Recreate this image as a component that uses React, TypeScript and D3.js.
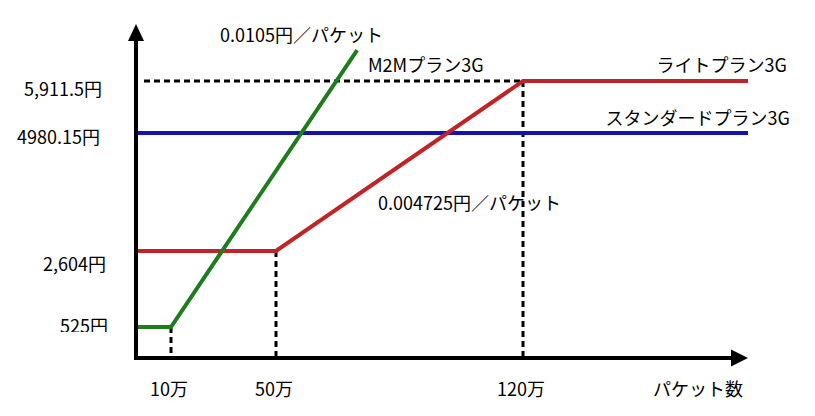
import React from "react";
import * as d3 from "d3";

// x values in 万パケット, y values in 円
const xTickValues = [10, 50, 120];
const xTickLabels = ["10万", "50万", "120万"];
const yTickValues = [525, 2604, 4980.15, 5911.5];
const yTickLabels = ["525円", "2,604円", "4980.15円", "5,911.5円"];

const m2mX = [0, 10, 73];
const m2mY = [525, 525, 6466];
const liteX = [0, 50, 120, 180];
const liteY = [2604, 2604, 5911.5, 5911.5];
const stdX = [0, 180];
const stdY = [4980.15, 4980.15];

const seriesNames = ["M2Mプラン3G", "ライトプラン3G", "スタンダードプラン3G"];
const rateLabels = ["0.0105円／パケット", "0.004725円／パケット"];
const xAxisTitle = "パケット数";

const W = 815;
const H = 416;
const FONT = "'Noto Sans CJK JP', 'Noto Sans', sans-serif";

// schematic (piecewise) scales, as in the original diagram
const x = d3.scaleLinear().domain([0, 10, 50, 120, 180]).range([136, 171, 276, 523, 748]);
const y = d3.scaleLinear().domain([0, 525, 2604, 4980.15, 5911.5]).range([358, 327, 251, 133, 81]);

const toPts = (xs: number[], ys: number[]) => xs.map((v, i) => [v, ys[i]] as [number, number]);
const line = d3
  .line<[number, number]>()
  .x((d) => x(d[0]))
  .y((d) => y(d[1]));

const yLabelStyle = [
  { dx: 108, baseline: 333 },
  { dx: 106, baseline: 271 },
  { dx: 100, baseline: 144 },
  { dx: 102, baseline: 96 },
];

export default function App() {
  const x0 = x(0);
  const y0 = y(0);
  const xEnd = x(180);
  const yTop = 24;
  const dash = "6,4";
  return (
    <svg
      width={W}
      height={H}
      style={{ position: "absolute", left: 0, top: 0, background: "#fff" }}
      fontFamily={FONT}
      fontSize={18}
    >
      <defs>
        <clipPath id="clip525">
          <rect x={0} y={0} width={W} height={332} />
        </clipPath>
      </defs>
      <rect width={W} height={H} fill="#fff" />

      {/* y tick labels */}
      {yTickValues.map((v, i) => (
        <text
          key={"yl" + i}
          x={yLabelStyle[i].dx}
          y={yLabelStyle[i].baseline}
          textAnchor="end"
          fill="#000"
          clipPath={i === 0 ? "url(#clip525)" : undefined}
        >
          {yTickLabels[i]}
        </text>
      ))}

      {/* x tick labels */}
      {xTickValues.map((v, i) => (
        <text key={"xl" + i} x={x(v) - 2} y={396} textAnchor="middle" fill="#000">
          {xTickLabels[i]}
        </text>
      ))}
      <text x={743} y={396} textAnchor="end" fill="#000">
        {xAxisTitle}
      </text>

      {/* annotations */}
      <text x={220} y={42} fill="#000">{rateLabels[0]}</text>
      <text x={378} y={210} fill="#000">{rateLabels[1]}</text>
      <text x={368} y={72} fill="#000">{seriesNames[0]}</text>
      <text x={787} y={72} textAnchor="end" fill="#000">{seriesNames[1]}</text>
      <text x={790} y={125} textAnchor="end" fill="#000">{seriesNames[2]}</text>

      {/* dashed guides */}
      <g stroke="#000" strokeWidth={3} strokeDasharray={dash} fill="none">
        <line x1={144} x2={x(120)} y1={y(5911.5)} y2={y(5911.5)} />
        <line x1={x(120)} x2={x(120)} y1={y(5911.5)} y2={y0} />
        <line x1={x(10)} x2={x(10)} y1={y(525)} y2={y0} />
        <line x1={x(50)} x2={x(50)} y1={y(2604)} y2={y0} />
      </g>

      {/* series */}
      <path d={line(toPts(stdX, stdY)) || ""} stroke="#1212ae" strokeWidth={4} fill="none" />
      <path
        d={line(toPts(liteX, liteY)) || ""}
        stroke="#c02424"
        strokeWidth={4}
        fill="none"
        strokeLinejoin="miter"
      />
      <path
        d={line(toPts(m2mX, m2mY)) || ""}
        stroke="#1e7b1e"
        strokeWidth={4}
        fill="none"
        strokeLinejoin="miter"
      />

      {/* axes */}
      <path
        d={`M${x0},${yTop + 16} V${y0} H${xEnd - 16}`}
        stroke="#000"
        strokeWidth={4}
        fill="none"
        strokeLinejoin="miter"
      />
      <polygon points={`${x0},${yTop} ${x0 - 8},${yTop + 17} ${x0 + 8},${yTop + 17}`} fill="#000" />
      <polygon
        points={`${xEnd},${y0} ${xEnd - 17},${y0 - 8.5} ${xEnd - 17},${y0 + 8.5}`}
        fill="#000"
      />
    </svg>
  );
}
